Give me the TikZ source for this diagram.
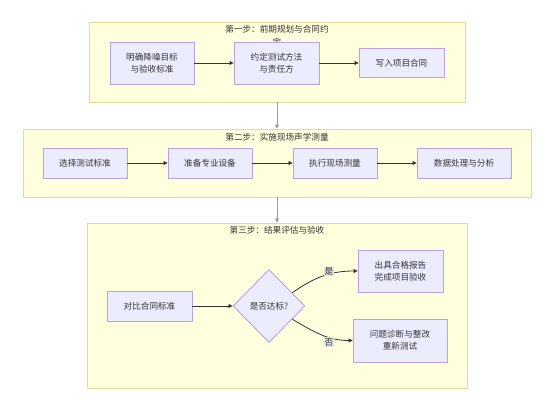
\documentclass[tikz,border=0pt]{standalone}
\usepackage{fontspec}
\setmainfont{Noto Sans CJK SC}
\usetikzlibrary{arrows.meta,shapes.geometric,calc}
\definecolor{clfill}{HTML}{FFFFDE}
\definecolor{cldraw}{HTML}{DDDD99}
\definecolor{ndfill}{HTML}{ECECFF}
\definecolor{nddraw}{HTML}{B9A0E8}
\definecolor{txt}{HTML}{333333}
\definecolor{lblbg}{HTML}{E0E0E0}
\tikzset{
  cluster/.style={draw=cldraw, fill=clfill, line width=0.9pt, inner sep=0pt, rectangle},
  box/.style={draw=nddraw, fill=ndfill, line width=0.9pt, inner sep=0pt, rectangle,
    text=txt, font=\fontsize{8.6}{12}\selectfont, align=center},
  title/.style={text=txt, font=\fontsize{8.6}{11}\selectfont, inner sep=0pt},
  conn/.style={draw=txt, line width=0.8pt, -{Triangle[length=4pt,width=4pt]}},
  link/.style={draw=gray!80, line width=0.8pt, -{Triangle[length=4pt,width=4pt]}},
  elabel/.style={fill=lblbg, fill opacity=0.9, text opacity=1, text=txt,
    font=\fontsize{8.6}{11}\selectfont, inner sep=1pt}
}
\begin{document}
\begin{tikzpicture}[x=1pt,y=-1pt]
\useasboundingbox (0,0) rectangle (554,411);
% clusters
\node[cluster, minimum width=376pt, minimum height=80pt] (c1) at (277,62) {};
\node[cluster, minimum width=508pt, minimum height=68pt] (c2) at (277,163) {};
\node[cluster, minimum width=380pt, minimum height=165pt] (c3) at (277,305.5) {};
\node[title] (t1) at (277,29) {第一步：前期规划与合同约};
\node[title] (t1b) at (277,42.5) {定};
\node[title] (t2) at (277,137) {第二步：实施现场声学测量};
\node[title] (t3) at (277,230) {第三步：结果评估与验收};
% step 1
\node[box, minimum width=84pt, minimum height=42pt] (a) at (152,63) {明确降噪目标\\与验收标准};
\node[box, minimum width=85pt, minimum height=42pt] (b) at (276.5,63) {约定测试方法\\与责任方};
\node[box, minimum width=85pt, minimum height=29pt] (c) at (401.5,63) {写入项目合同};
% step 2
\node[box, minimum width=84pt, minimum height=30pt] (d) at (85,163) {选择测试标准};
\node[box, minimum width=84pt, minimum height=30pt] (e) at (210,163) {准备专业设备};
\node[box, minimum width=84pt, minimum height=30pt] (f) at (335,163) {执行现场测量};
\node[box, minimum width=94pt, minimum height=30pt] (g) at (464,163) {数据处理与分析};
% step 3
\node[box, minimum width=85pt, minimum height=30pt] (h) at (149.5,306) {对比合同标准};
\node[box, shape=diamond, aspect=1, minimum width=72pt, minimum height=73pt] (dia) at (269,306) {是否达标?};
\node[box, minimum width=85pt, minimum height=42pt] (i) at (400.5,271) {出具合格报告\\完成项目验收};
\node[box, minimum width=94pt, minimum height=43pt] (j) at (400,340.5) {问题诊断与整改\\重新测试};
% connectors
\draw[conn] (a.east) -- (b.west);
\draw[conn] (b.east) -- (c.west);
\draw[conn] (d.east) -- (e.west);
\draw[conn] (e.east) -- (f.west);
\draw[conn] (f.east) -- (g.west);
\draw[conn] (h.east) -- (dia.west);
\draw[link] (c1.south) -- (c2.north);
\draw[link] (c2.south) -- (c3.north);
\coordinate (dy) at ($(dia.north)!0.64!(dia.east)$);
\coordinate (dn) at ($(dia.south)!0.64!(dia.east)$);
\draw[conn] (dy) to[out=35,in=180] (i.west);
\draw[conn] (dn) to[out=-30,in=180] (j.west);
\node[elabel] (ly) at (329,271.5) {是};
\node[elabel] (ln) at (329,342) {否};
\end{tikzpicture}
\end{document}
